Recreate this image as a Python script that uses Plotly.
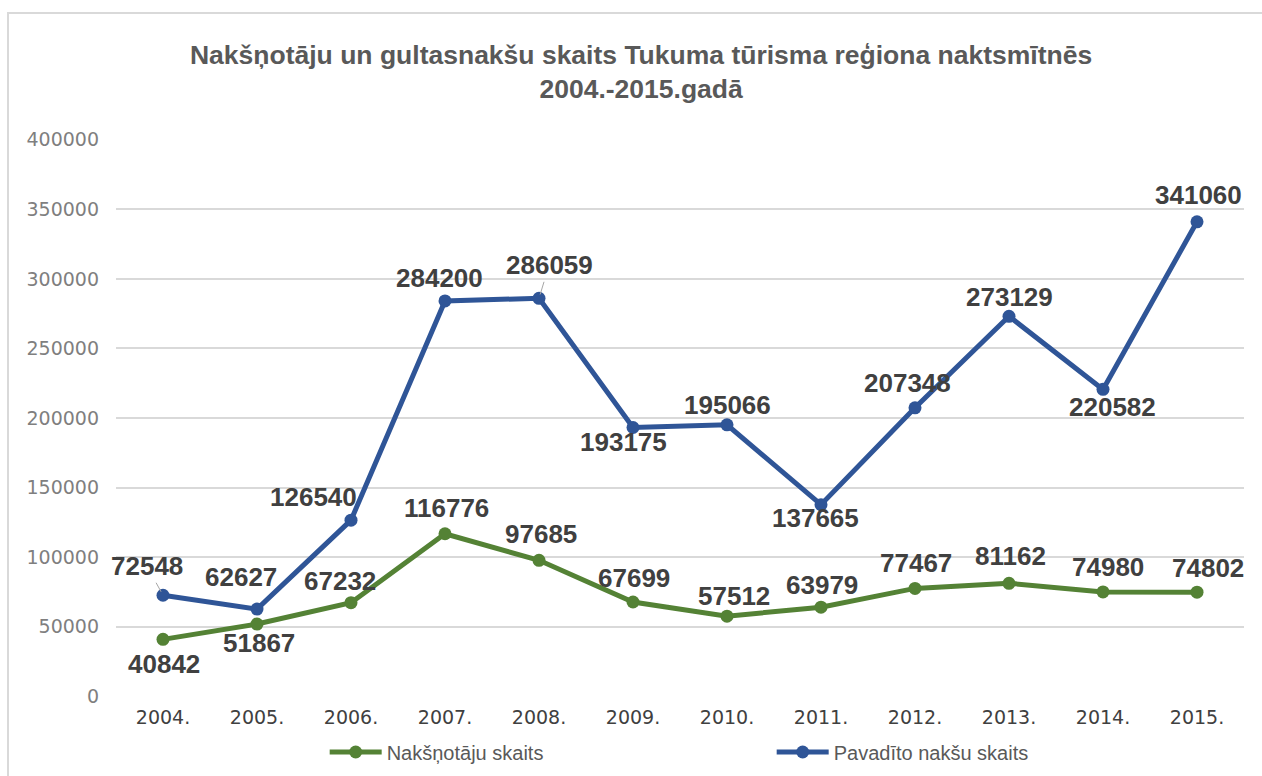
import plotly.graph_objects as go

years = ["2004.", "2005.", "2006.", "2007.", "2008.", "2009.", "2010.", "2011.", "2012.", "2013.", "2014.", "2015."]
guests = [40842, 51867, 67232, 116776, 97685, 67699, 57512, 63979, 77467, 81162, 74980, 74802]
nights = [72548, 62627, 126540, 284200, 286059, 193175, 195066, 137665, 207348, 273129, 220582, 341060]

name_guests = "Nakšņotāju skaits"
name_nights = "Pavadīto nakšu skaits"
title_text = "Nakšņotāju un gultasnakšu skaits Tukuma tūrisma reģiona naktsmītnēs<br>2004.-2015.gadā"

# label offsets in pixels (dx right, dy down) from each point
guest_off = [(1, 25), (2, 19), (-11, -22), (1, -26), (2, -26), (1, -24), (7, -20), (1, -22), (1, -25), (1, -27), (5, -25), (11, -24)]
night_off = [(-16, -29), (-16, -32), (-38, -23), (-6, -23), (10, -33), (-10, 15), (0, -20), (-6, 13), (-8, -25), (0, -19), (9, 18), (1, -27)]
night_leader = [True, False, False, False, True, False, False, False, False, False, False, False]

GREEN = "#548235"
BLUE = "#2F5597"
LABEL_FONT = dict(family="Liberation Sans, Arial, sans-serif", size=26, color="#404040", weight="bold")

idx = list(range(len(years)))

fig = go.Figure()
fig.add_trace(go.Scatter(x=idx, y=guests, name=name_guests, mode="lines+markers",
                         line=dict(color=GREEN, width=5), marker=dict(size=13, color=GREEN)))
fig.add_trace(go.Scatter(x=idx, y=nights, name=name_nights, mode="lines+markers",
                         line=dict(color=BLUE, width=5), marker=dict(size=13, color=BLUE)))

annotations = []
for i, v, (dx, dy) in zip(idx, guests, guest_off):
    annotations.append(dict(x=i, y=v, xref="x", yref="y", text=str(v), showarrow=False,
                            xshift=dx, yshift=-dy, font=LABEL_FONT))
for i, v, (dx, dy), lead in zip(idx, nights, night_off, night_leader):
    if lead:
        annotations.append(dict(x=i, y=v, xref="x", yref="y", text=str(v), showarrow=True,
                                ax=dx, ay=dy, arrowhead=0, arrowwidth=1, arrowcolor="#a6a6a6",
                                standoff=4, font=LABEL_FONT))
    else:
        annotations.append(dict(x=i, y=v, xref="x", yref="y", text=str(v), showarrow=False,
                                xshift=dx, yshift=-dy, font=LABEL_FONT))

fig.update_layout(
    width=1262, height=776,
    margin=dict(l=116, r=18, t=139, b=79, autoexpand=False),
    paper_bgcolor="white", plot_bgcolor="white",
    title=dict(text=title_text, x=0.508, xref="container", xanchor="center",
               y=1 - 64 / 776, yref="container", yanchor="top",
               font=dict(family="Liberation Sans, Arial", size=26.5, color="#595959", weight="bold")),
    xaxis=dict(range=[-0.5, len(years) - 0.5], tickvals=idx, ticktext=years,
               showgrid=False, zeroline=False, showline=False, ticks="",
               tickfont=dict(family="DejaVu Sans", size=19, color="#404040"), ticklabelstandoff=7),
    yaxis=dict(range=[-600, 400600], tickvals=[0, 50000, 100000, 150000, 200000, 250000, 300000, 350000, 400000],
               showgrid=True, gridcolor="#d9d9d9", gridwidth=1.5,
               zeroline=False, showline=False, ticks="", tickformat="d",
               tickfont=dict(family="DejaVu Sans", size=19, color="#7f7f7f"), ticklabelstandoff=16),
    legend=dict(orientation="h", x=0.185, xanchor="left", y=-0.0986, yanchor="middle",
                entrywidth=380, entrywidthmode="pixels", itemwidth=52,
                font=dict(family="Liberation Sans, Arial", size=20, color="#595959")),
    annotations=annotations,
    shapes=[dict(type="rect", xref="paper", yref="paper",
                 x0=(8 - 116) / 1128, x1=1.05, y0=-0.2, y1=1 + (139 - 13) / 558,
                 line=dict(color="#d9d9d9", width=2), fillcolor="rgba(0,0,0,0)", layer="below")],
)

fig.write_html("out.html", config={"displayModeBar": False},
               post_script="document.body.style.margin='0px';")
